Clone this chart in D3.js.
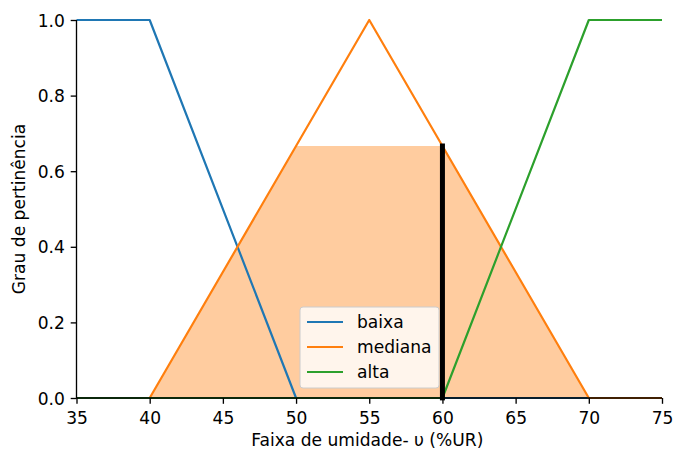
<!DOCTYPE html>
<html>
<head>
<meta charset="utf-8">
<script src="https://cdn.jsdelivr.net/npm/d3@7"></script>
<style>
  html, body { margin: 0; padding: 0; background: #fff; }
  svg text { font-family: "DejaVu Sans", sans-serif; fill: #000; }
</style>
</head>
<body>
<svg id="chart" width="674" height="450"></svg>
<script>
// Universe breakpoints for relative humidity (%UR)
const universe = [35, 40, 50, 55, 60, 70, 75];
// Membership degrees of each fuzzy set at those breakpoints
const baixa   = [1, 1, 0, 0, 0, 0, 0];
const mediana = [0, 0, 2 / 3, 1, 2 / 3, 0, 0];
const alta    = [0, 0, 0, 0, 0, 1, 1];
// Crisp input and the resulting activation of "mediana"
const crispValue = 60;
const activation = 2 / 3;
// Ticks
const xTicks = [35, 40, 45, 50, 55, 60, 65, 70, 75];
const yTicks = [0, 0.2, 0.4, 0.6, 0.8, 1.0];

const seriesNames = ["baixa", "mediana", "alta"];
const seriesValues = [baixa, mediana, alta];
const colors = ["#1f77b4", "#ff7f0e", "#2ca02c"];

const svg = d3.select("#chart");
const plotLeft = 76.5, plotRight = 662, plotTop = 20, plotBottom = 398;
const fontSize = 17.1;

const x = d3.scaleLinear().domain([35, 75]).range([plotLeft, plotRight]);
const y = d3.scaleLinear().domain([0, 1]).range([plotBottom, plotTop]);

svg.append("defs").append("clipPath").attr("id", "plotclip")
  .append("rect").attr("x", plotLeft).attr("y", plotTop - 1.2)
  .attr("width", plotRight - plotLeft).attr("height", plotBottom - plotTop + 4);

const plot = svg.append("g").attr("clip-path", "url(#plotclip)");

// Activated region: "mediana" clipped at the activation level
const clipped = mediana.map(v => Math.min(v, activation));
const area = d3.area()
  .x((d, i) => x(universe[i]))
  .y0(y(0))
  .y1(d => y(d));
plot.append("path")
  .attr("d", area(clipped))
  .attr("fill", "#ff7f0e")
  .attr("fill-opacity", 0.4)
  .attr("stroke", "none");

// Membership functions
const line = d3.line().x((d, i) => x(universe[i])).y(d => y(d));
seriesValues.forEach((vals, k) => {
  plot.append("path")
    .attr("d", line(vals))
    .attr("fill", "none")
    .attr("stroke", colors[k])
    .attr("stroke-width", 2.2)
    .attr("stroke-linejoin", "round")
    .attr("stroke-linecap", "square");
});

// Crisp value marker
plot.append("line")
  .attr("x1", x(crispValue)).attr("x2", x(crispValue))
  .attr("y1", y(0)).attr("y2", y(activation))
  .attr("stroke", "#000")
  .attr("stroke-width", 5)
  .attr("stroke-linecap", "square");

// Axes
const xAxis = d3.axisBottom(x).tickValues(xTicks).tickSize(5.8).tickPadding(5.8)
  .tickFormat(d3.format("d"));
const yAxis = d3.axisLeft(y).tickValues(yTicks).tickSize(5.8).tickPadding(5.8)
  .tickFormat(d3.format(".1f"));

const gx = svg.append("g").attr("transform", `translate(0,${plotBottom})`).call(xAxis);
const gy = svg.append("g").attr("transform", `translate(${plotLeft},0)`).call(yAxis);

[gx, gy].forEach(g => {
  g.select(".domain").attr("stroke", "#000").attr("stroke-width", 1.33);
  g.selectAll(".tick line").attr("stroke", "#000").attr("stroke-width", 1.33);
  g.selectAll(".tick text").attr("font-size", fontSize)
    .attr("font-family", "DejaVu Sans").attr("fill", "#000");
});
gx.selectAll(".tick text").attr("dy", null).attr("y", 26);
gy.selectAll(".tick text").attr("dy", "0.36em");
gx.select(".domain").attr("d", `M${plotLeft},0H${plotRight}`);
gy.select(".domain").attr("d", `M0,${plotBottom}V${plotTop}`);

// Axis labels
svg.append("text")
  .attr("x", (plotLeft + plotRight) / 2 - 2).attr("y", 446)
  .attr("text-anchor", "middle")
  .attr("font-size", fontSize)
  .text("Faixa de umidade- υ (%UR)");

svg.append("text")
  .attr("transform", `translate(25,${(plotTop + plotBottom) / 2}) rotate(-90)`)
  .attr("text-anchor", "middle")
  .attr("font-size", fontSize)
  .text("Grau de pertinência");

// Legend
const legend = svg.append("g").attr("transform", "translate(300,307)");
legend.append("rect")
  .attr("x", 0).attr("y", 0).attr("width", 139).attr("height", 81)
  .attr("rx", 3).attr("ry", 3)
  .attr("fill", "#fff").attr("fill-opacity", 0.8)
  .attr("stroke", "#cccccc").attr("stroke-width", 1);
seriesNames.forEach((name, k) => {
  const cy = 15 + k * 25;
  legend.append("line")
    .attr("x1", 7).attr("x2", 43).attr("y1", cy).attr("y2", cy)
    .attr("stroke", colors[k]).attr("stroke-width", 2.2);
  legend.append("text")
    .attr("x", 57).attr("y", cy).attr("dy", "0.36em")
    .attr("font-size", fontSize)
    .text(name);
});
</script>
</body>
</html>
